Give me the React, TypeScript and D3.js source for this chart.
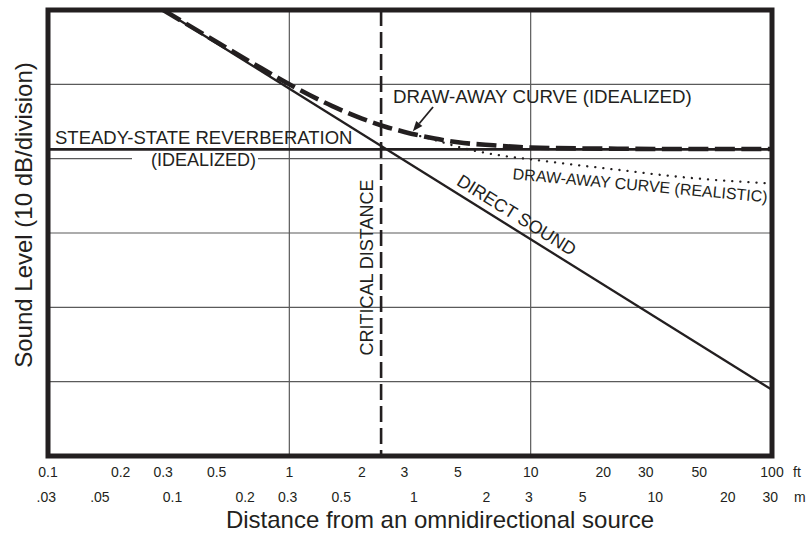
import React from "react";
import * as d3 from "d3";

// ---- data (distance in feet, level in dB; 10 dB per division) ----
const FT_TICKS = [0.1, 0.2, 0.3, 0.5, 1, 2, 3, 5, 10, 20, 30, 50, 100];
const FT_LABELS = ["0.1", "0.2", "0.3", "0.5", "1", "2", "3", "5", "10", "20", "30", "50", "100"];
const M_TICKS = [0.03, 0.05, 0.1, 0.2, 0.3, 0.5, 1, 2, 3, 5, 10, 20, 30];
const M_LABELS = [".03", ".05", "0.1", "0.2", "0.3", "0.5", "1", "2", "3", "5", "10", "20", "30"];
const LEVEL_GRID = [10, 20, 30, 40, 50];
const DIST_GRID = [1, 10];

const DIRECT_DIST = [0.3, 100];
const DIRECT_LEVEL = [60, 8.9];

const REVERB_DIST = [0.1, 100];
const REVERB_LEVEL = [41.26, 41.26];

const IDEAL_DIST = [0.3, 0.5, 0.7, 1, 1.5, 2, 2.5, 3, 4, 5, 7, 10, 20, 50, 100];
const IDEAL_LEVEL = [60, 55.7, 52.9, 50.0, 47.1, 45.4, 44.3, 43.6, 42.7, 42.2, 41.8, 41.5, 41.35, 41.3, 41.3];

const REAL_DIST = [3, 4, 5, 6, 8, 10, 15, 23, 40, 60, 95];
const REAL_LEVEL = [43.6, 42.5, 41.6, 41.0, 40.3, 39.9, 39.2, 38.5, 37.6, 37.1, 36.7];

const CRITICAL_DISTANCE = 2.4;
const FT_PER_M = 1 / 0.3048;

const W = 811;
const H = 533;
const FONT = "'Liberation Sans', Arial, Helvetica, sans-serif";
const INK = "#231f20";

export default function App() {
  const x = d3.scaleLog().domain([0.1, 100]).range([48, 772]);
  const y = d3.scaleLinear().domain([0, 60]).range([456, 10]);

  const line = d3
    .line<[number, number]>()
    .x((d) => x(d[0]))
    .y((d) => y(d[1]));
  const smooth = d3
    .line<[number, number]>()
    .x((d) => x(d[0]))
    .y((d) => y(d[1]))
    .curve(d3.curveMonotoneX);

  const zip = (a: number[], b: number[]) => a.map((v, i) => [v, b[i]] as [number, number]);

  const directPts = zip(DIRECT_DIST, DIRECT_LEVEL);
  const reverbPts = zip(REVERB_DIST, REVERB_LEVEL);
  const idealPts = zip(IDEAL_DIST, IDEAL_LEVEL);
  const realPts = zip(REAL_DIST, REAL_LEVEL);

  // direct-sound angle for its label
  const dx = x(DIRECT_DIST[1]) - x(DIRECT_DIST[0]);
  const dy = y(DIRECT_LEVEL[1]) - y(DIRECT_LEVEL[0]);
  const directAngle = (Math.atan2(dy, dx) * 180) / Math.PI;
  const directLabelX = x(8.2) + 3.5;
  const directLabelY = y(60 + ((8.9 - 60) * Math.log10(8.2 / 0.3)) / Math.log10(100 / 0.3)) - 6;

  const cx = x(CRITICAL_DISTANCE);

  // arrow (tail -> tip)
  const ax1 = x(3.94), ay1 = y(46.95);
  const ax2 = x(3.25), ay2 = y(43.7);
  const ang = Math.atan2(ay2 - ay1, ax2 - ax1);
  const hl = 10, hw = 4;
  const bx = ax2 - hl * Math.cos(ang), by = ay2 - hl * Math.sin(ang);
  const head = `M${ax2},${ay2} L${bx + hw * Math.sin(ang)},${by - hw * Math.cos(ang)} L${bx - hw * Math.sin(ang)},${by + hw * Math.cos(ang)} Z`;

  return (
    <svg
      width={W}
      height={H}
      style={{ position: "absolute", left: 0, top: 0, background: "#fff" }}
      fontFamily={FONT}
    >
      <defs>
        <clipPath id="plot">
          <rect x={48} y={10} width={724} height={446} />
        </clipPath>
      </defs>
      <rect x={0} y={0} width={W} height={H} fill="#fff" />

      {/* grid */}
      {LEVEL_GRID.map((v) => (
        <line key={"h" + v} x1={48} x2={772} y1={y(v)} y2={y(v)} stroke="#5a5a5a" strokeWidth={1.2} />
      ))}
      {DIST_GRID.map((v) => (
        <line key={"v" + v} x1={x(v)} x2={x(v)} y1={10} y2={456} stroke="#5a5a5a" strokeWidth={1.2} />
      ))}

      <g clipPath="url(#plot)">
        {/* steady-state reverberation */}
        <path d={line(reverbPts) || ""} fill="none" stroke={INK} strokeWidth={2.7} />

        {/* (IDEALIZED) label white knock-out on the grid line */}
        <rect x={132} y={152} width={126} height={12} fill="#fff" />

        {/* direct sound */}
        <path d={line(directPts) || ""} fill="none" stroke={INK} strokeWidth={2.3} />

        {/* realistic draw-away (dotted) */}
        <path
          d={smooth(realPts) || ""}
          fill="none"
          stroke={INK}
          strokeWidth={2.3}
          strokeDasharray="0.1,8"
          strokeLinecap="round"
        />

        {/* idealized draw-away (heavy dashed) */}
        <path
          d={smooth(idealPts) || ""}
          fill="none"
          stroke={INK}
          strokeWidth={4.6}
          strokeDasharray="20,6.5"
        />

        {/* critical distance */}
        <line x1={cx} x2={cx} y1={10} y2={456} stroke={INK} strokeWidth={2.6} strokeDasharray="16,6" />
      </g>

      {/* annotations */}
      <g fill={INK} fontSize={18}>
        <text x={55} y={144} fontSize={18.5}>STEADY-STATE REVERBERATION</text>
        <text x={151} y={166}>(IDEALIZED)</text>
        <text x={393} y={103} fontSize={18.7}>DRAW-AWAY CURVE (IDEALIZED)</text>
        <text transform={`translate(373,267.5) rotate(-90)`} textAnchor="middle">
          CRITICAL DISTANCE
        </text>
        <text
          transform={`translate(${directLabelX},${directLabelY}) rotate(${directAngle})`}
          textAnchor="middle"
        >
          DIRECT SOUND
        </text>
        <text
          transform={`translate(${x(28.3)},${y(35.68)}) rotate(5.2)`}
          textAnchor="middle"
          fontSize={16}
        >
          DRAW-AWAY CURVE (REALISTIC)
        </text>
      </g>

      {/* arrow */}
      <line x1={ax1} y1={ay1} x2={bx} y2={by} stroke={INK} strokeWidth={1.8} />
      <path d={head} fill={INK} />

      {/* frame */}
      <rect x={48} y={10} width={724} height={446} fill="none" stroke={INK} strokeWidth={5} />

      {/* tick labels */}
      <g fill={INK} fontSize={14} textAnchor="middle">
        {FT_TICKS.map((v, i) => (
          <text key={"f" + v} x={x(v)} y={477}>
            {FT_LABELS[i]}
          </text>
        ))}
        {M_TICKS.map((v, i) => (
          <text key={"m" + v} x={x(v * FT_PER_M)} y={502}>
            {M_LABELS[i]}
          </text>
        ))}
      </g>
      <text x={793} y={477} fontSize={14} fill={INK}>ft</text>
      <text x={794} y={502} fontSize={14} fill={INK}>m</text>

      {/* axis titles */}
      <text x={440} y={528} fontSize={24} textAnchor="middle" fill={INK}>
        Distance from an omnidirectional source
      </text>
      <text transform="translate(32,215) rotate(-90)" fontSize={24} textAnchor="middle" fill={INK}>
        Sound Level (10 dB/division)
      </text>
    </svg>
  );
}
